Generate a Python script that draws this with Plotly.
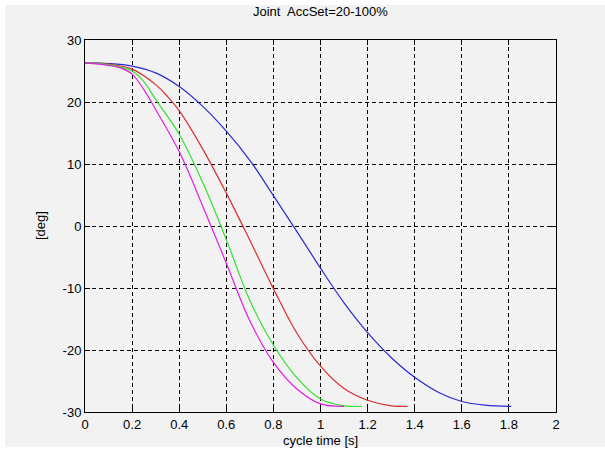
import plotly.graph_objects as go

# Joint position over the cycle for four acceleration settings
t_blue = [0, 0.1, 0.2, 0.3, 0.4, 0.5, 0.6, 0.7, 0.8, 0.9, 1.0, 1.1, 1.2, 1.3, 1.4, 1.5, 1.6, 1.7, 1.81]
q_blue = [26.3, 26.2, 25.8, 24.7, 22.5, 19.3, 15.3, 10.6, 4.9, -0.9, -6.8, -12.4, -17.2, -21.2, -24.4, -26.8, -28.3, -28.9, -29.1]

t_red = [0, 0.1, 0.2, 0.3, 0.35, 0.4, 0.5, 0.6, 0.7, 0.8, 0.9, 1.0, 1.1, 1.2, 1.3, 1.37]
q_red = [26.3, 26.1, 25.3, 22.8, 20.9, 18.6, 12.4, 5.3, -2.3, -10.1, -17.3, -22.6, -26.2, -28.1, -29.0, -29.1]

t_green = [0, 0.1, 0.2, 0.25, 0.3, 0.4, 0.5, 0.6, 0.7, 0.8, 0.9, 1.0, 1.1, 1.175]
q_green = [26.3, 26.0, 25.0, 23.3, 20.4, 14.8, 7.0, -2.2, -12.0, -19.2, -24.5, -27.9, -29.0, -29.1]

t_mag = [0, 0.1, 0.15, 0.2, 0.25, 0.3, 0.4, 0.5, 0.6, 0.7, 0.8, 0.9, 1.0, 1.1]
q_mag = [26.3, 25.9, 25.5, 24.5, 22.0, 18.8, 12.0, 3.2, -6.0, -15.3, -22.0, -26.3, -28.7, -29.1]

x_ticks = [0, 0.2, 0.4, 0.6, 0.8, 1, 1.2, 1.4, 1.6, 1.8, 2]
x_labels = ["0", "0.2", "0.4", "0.6", "0.8", "1", "1.2", "1.4", "1.6", "1.8", "2"]
y_ticks = [-30, -20, -10, 0, 10, 20, 30]
y_labels = ["-30", "-20", "-10", "0", "10", "20", "30"]

series = [
    (t_blue, q_blue, "#2a2ad2"),
    (t_red, q_red, "#d8302c"),
    (t_green, q_green, "#2ee22e"),
    (t_mag, q_mag, "#e020e0"),
]

FONT = "Liberation Sans, Arial, sans-serif"

fig = go.Figure()
for t, q, c in series:
    fig.add_trace(go.Scatter(
        x=t, y=q, mode="lines",
        line=dict(color=c, width=1.2, shape="spline", smoothing=1.0),
        showlegend=False, hoverinfo="skip",
    ))

axis_common = dict(
    showgrid=True, gridcolor="black", gridwidth=1, griddash="4px,3px",
    showline=True, linecolor="black", linewidth=1, mirror="ticks",
    ticks="inside", ticklen=5, tickcolor="black",
    zeroline=False,
    tickfont=dict(family=FONT, size=13, color="black"),
)

fig.update_xaxes(range=[0, 2], tickvals=x_ticks, ticktext=x_labels, **axis_common)
fig.update_yaxes(range=[-30, 30], tickvals=y_ticks, ticktext=y_labels, **axis_common)

fig.update_layout(
    width=605, height=452,
    margin=dict(l=85, r=49, t=40, b=40),
    paper_bgcolor="white",
    plot_bgcolor="white",
    shapes=[dict(
        type="rect", xref="paper", yref="paper", layer="below",
        x0=-80 / 471, x1=544 / 471, y0=-35 / 372, y1=407 / 372,
        fillcolor="#f2f2f2", line=dict(width=0),
    )],
    annotations=[
        dict(text="Joint  AccSet=20-100%", xref="paper", yref="paper",
             x=0.5, y=401 / 372, showarrow=False, xanchor="center", yanchor="middle",
             font=dict(family=FONT, size=13, color="black")),
        dict(text="cycle time [s]", xref="paper", yref="paper",
             x=0.5, y=-28 / 372, showarrow=False, xanchor="center", yanchor="middle",
             font=dict(family=FONT, size=13, color="black")),
        dict(text="[deg]", xref="paper", yref="paper",
             x=-45 / 471, y=0.5, showarrow=False, xanchor="center", yanchor="middle",
             textangle=-90, font=dict(family=FONT, size=13, color="black")),
    ],
)

fig.write_html("out.html")
